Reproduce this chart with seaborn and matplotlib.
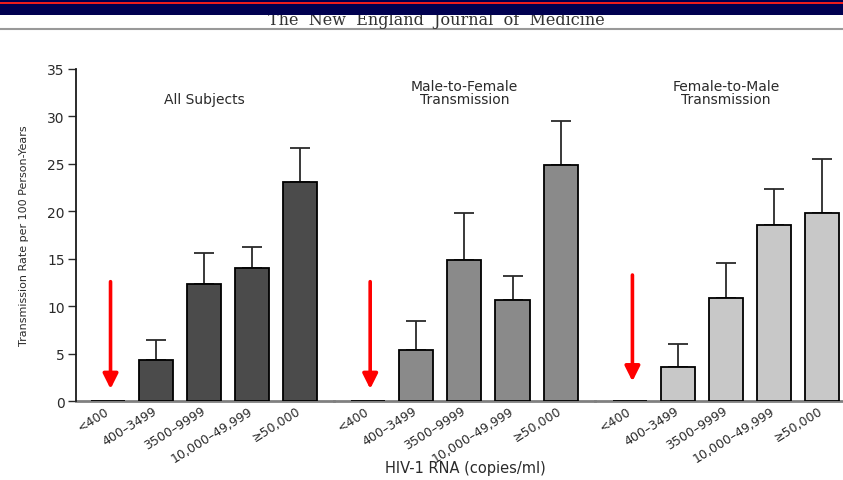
import numpy as np
import pandas as pd
import matplotlib
matplotlib.use("Agg")
import matplotlib.pyplot as plt
import matplotlib.transforms as mtrans
from matplotlib.patches import Rectangle
import seaborn as sns

# HIV-1 RNA categories (copies/ml)
categories = ["<400", "400–3499", "3500–9999", "10,000–49,999", "≥50,000"]

# panel titles
groups = ["All Subjects", "Male-to-Female\nTransmission", "Female-to-Male\nTransmission"]

# transmission rate per 100 person-years and upper error
all_rate = [0.0, 4.4, 12.4, 14.0, 23.1]
all_err = [0.0, 2.1, 3.2, 2.2, 3.6]
mf_rate = [0.0, 5.4, 14.9, 10.7, 24.9]
mf_err = [0.0, 3.1, 4.9, 2.5, 4.6]
fm_rate = [0.0, 3.6, 10.9, 18.6, 19.8]
fm_err = [0.0, 2.4, 3.7, 3.8, 5.7]

# red arrows pointing at the <400 bars (start, tip)
arrow_top = [12.6, 12.6, 13.3]
arrow_tip = [1.3, 1.3, 2.1]

bar_colors = ["#4b4b4b", "#8a8a8a", "#c8c8c8"]

df = pd.DataFrame({
    "group": np.repeat(groups, len(categories)),
    "rna": categories * 3,
    "rate": all_rate + mf_rate + fm_rate,
    "err": all_err + mf_err + fm_err,
})

sns.set_style("ticks")
plt.rcParams["font.family"] = ["DejaVu Sans"]
plt.rcParams["text.color"] = "#2a2a2a"

W, H = 843, 481
fig = plt.figure(figsize=(W / 100, H / 100), dpi=100)

# panel extents in pixels and x-limits in category units
panels = [(76, 334, -0.67, 4.71), (334, 595, -0.70, 4.71), (595, 843, -0.73, 4.44)]
y_bottom, y_top = 402.3, 70

label_shift = mtrans.ScaledTranslation(0.06, 0, fig.dpi_scale_trans)

for i, (g, (l, r, x0, x1)) in enumerate(zip(groups, panels)):
    ax = fig.add_axes([l / W, (H - y_bottom) / H, (r - l) / W, (y_bottom - y_top) / H])
    sub = df[df["group"] == g]
    sns.barplot(data=sub, x="rna", y="rate", order=categories, color=bar_colors[i],
                saturation=1, width=0.71, edgecolor="black", linewidth=1.3,
                errorbar=None, ax=ax, zorder=3)

    pos = np.arange(len(categories))
    has = sub["err"].values > 0
    ax.errorbar(pos[has], sub["rate"].values[has],
                yerr=[np.zeros(has.sum()), sub["err"].values[has]],
                fmt="none", ecolor="#2a2a2a", elinewidth=1.3, capsize=7, capthick=1.3,
                zorder=2)

    ax.annotate("", xy=(0.05, arrow_tip[i]), xytext=(0.05, arrow_top[i]),
                arrowprops=dict(arrowstyle="-|>,head_width=0.45,head_length=0.9",
                                color="#ff0000", lw=2.6, shrinkA=0, shrinkB=0,
                                mutation_scale=10), zorder=4)

    ax.text(2, 31.4, g, ha="center", va="baseline", fontsize=10, linespacing=0.95,
            color="#2a2a2a")

    ax.set_xlim(x0, x1)
    ax.set_ylim(0, 35)
    ax.set_xlabel("")
    ax.set_ylabel("")
    ax.set_xticks(pos)
    ax.set_xticklabels(categories, rotation=32, ha="right", va="center",
                       rotation_mode="anchor", fontsize=9, color="#2a2a2a")
    for lbl in ax.get_xticklabels():
        lbl.set_transform(lbl.get_transform() + label_shift)
    ax.tick_params(axis="x", length=0, pad=6)

    for s in ["top", "right"]:
        ax.spines[s].set_visible(False)
    ax.spines["bottom"].set_color("#808080")
    ax.spines["bottom"].set_linewidth(2)
    ax.spines["bottom"].set_zorder(1)
    ax.patch.set_alpha(0)

    if i == 0:
        ax.set_yticks(range(0, 36, 5))
        ax.tick_params(axis="y", length=6, width=1, color="#2a2a2a", labelsize=10,
                       labelcolor="#2a2a2a", pad=2)
        ax.spines["left"].set_color("#1a1a1a")
        ax.spines["left"].set_linewidth(1.3)
        ax.set_ylabel("Transmission Rate per 100 Person-Years", fontsize=8,
                      labelpad=13, color="#2a2a2a")
    else:
        ax.spines["left"].set_visible(False)
        ax.set_yticks([])

fig.text(465 / W, (H - 473) / H, "HIV-1 RNA (copies/ml)", ha="center", va="baseline",
         fontsize=10.5, color="#2a2a2a")

# journal header
fig.text(436 / W, (H - 25) / H, "The  New  England  Journal  of  Medicine", ha="center",
         va="baseline", fontsize=11.5, family="DejaVu Serif", color="#333333", zorder=4)
fig.add_artist(Rectangle((0, (H - 16) / H), 1, 16 / H, transform=fig.transFigure,
                         facecolor="#000050", edgecolor="none", zorder=5))
fig.add_artist(Rectangle((0, (H - 5.3) / H), 1, 2.3 / H, transform=fig.transFigure,
                         facecolor="#ee1c1c", edgecolor="none", zorder=6))
fig.add_artist(plt.Line2D([0, 1], [(H - 29.5) / H] * 2, transform=fig.transFigure,
                          color="#999999", lw=1.5))

fig.savefig("out.png", dpi=100)
